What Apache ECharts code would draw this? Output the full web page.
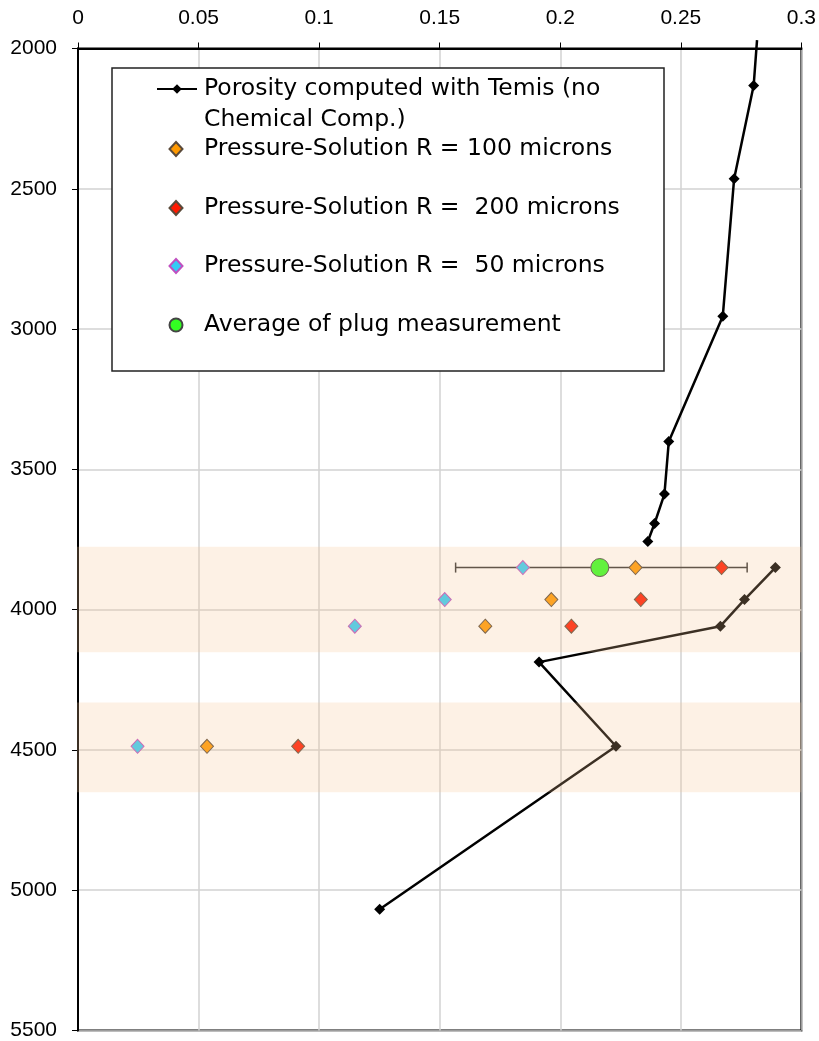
<!DOCTYPE html>
<html>
<head>
<meta charset="utf-8">
<script src="https://cdn.jsdelivr.net/npm/echarts@6/dist/echarts.min.js"></script>
<style>
  html, body { margin: 0; padding: 0; background: #fff; }
  #chart { width: 819px; height: 1041px; }
</style>
</head>
<body>
<div id="chart"></div>
<script>
// Porosity (fraction) against depth (m), depth increasing downwards.
const porosityRange = [0, 0.3];
const porosityStep = 0.05;
const depthRange = [2000, 5500];
const depthStep = 500;

const seriesNames = [
  'Porosity computed with Temis (no\nChemical Comp.)',
  'Pressure-Solution R = 100 microns',
  'Pressure-Solution R =  200 microns',
  'Pressure-Solution R =  50 microns',
  'Average of plug measurement'
];

// Temis porosity profile as [porosity, depth]; '-' splits the curve in two
const temisPorosity = [
  [0.2816, 1970], [0.2802, 2132], [0.2721, 2464], [0.2674, 2954],
  [0.2450, 3401], [0.2432, 3588], [0.2391, 3693], [0.2363, 3757],
  ['-', '-'],
  [0.2892, 3850], [0.2764, 3964], [0.2664, 4059], [0.1912, 4187],
  [0.2231, 4487], [0.1251, 5068]
];

// Pressure-solution porosity for three grain radii
const psR100 = [[0.2312, 3850], [0.1963, 3964], [0.1689, 4059], [0.0535, 4487]];
const psR200 = [[0.2669, 3850], [0.2334, 3964], [0.2046, 4059], [0.0913, 4487]];
const psR50  = [[0.1845, 3850], [0.1521, 3964], [0.1148, 4059], [0.0247, 4487]];

// Plug measurements: mean and min/max spread at one depth
const plugAverage = [[0.2164, 3850]];
const plugSpread = [[0.1566, 0.2775, 3850]];

// Reservoir intervals [top, base] highlighted across the plot
const reservoirZones = [[3776, 4152], [4331, 4651]];

const chart = echarts.init(document.getElementById('chart'), null, { renderer: 'canvas' });

const tickFont = { fontFamily: 'Liberation Sans, Arial, sans-serif', fontSize: 21, color: '#000' };
const legendFont = 'DejaVu Sans, Verdana, sans-serif';

function scatterLegend(name, top) {
  return {
    data: [name], left: 168.5, top: top, orient: 'vertical',
    itemWidth: 13, itemHeight: 14, padding: 0, selectedMode: false, z: 50,
    textStyle: { fontFamily: legendFont, fontSize: 23.5, lineHeight: 30, color: '#000', padding: [0, 0, 0, 16.5] }
  };
}

const option = {
  animation: false,
  backgroundColor: '#fff',
  grid: {
    left: 78, right: 17, top: 48.5, bottom: 9.5,
    show: true, borderColor: '#000', borderWidth: 2, backgroundColor: 'transparent'
  },
  xAxis: {
    type: 'value', position: 'top',
    min: porosityRange[0], max: porosityRange[1], interval: porosityStep,
    axisLine: { show: true, lineStyle: { color: '#000', width: 2 } },
    axisTick: { show: true, inside: false, length: 6, lineStyle: { color: '#000', width: 1 } },
    axisLabel: Object.assign({ margin: 20, formatter: v => String(+v.toFixed(2)) }, tickFont),
    splitLine: { show: true, lineStyle: { color: '#d2d2d2', width: 1.5 } }
  },
  yAxis: {
    type: 'value', inverse: true,
    min: depthRange[0], max: depthRange[1], interval: depthStep,
    axisLine: { show: true, lineStyle: { color: '#000', width: 2 } },
    axisTick: { show: true, inside: false, length: 6, lineStyle: { color: '#000', width: 1 } },
    axisLabel: Object.assign({ margin: 21, formatter: v => String(v) }, tickFont),
    splitLine: { show: true, lineStyle: { color: '#d2d2d2', width: 1.5 } }
  },
  legend: [
    {
      // leading empty line keeps the first text line level with the icon
      data: [seriesNames[0]], left: 156, top: 42.5, orient: 'vertical',
      itemWidth: 40, itemHeight: 12, padding: 0, selectedMode: false, z: 50,
      formatter: name => '\n' + name,
      textStyle: { fontFamily: legendFont, fontSize: 23.5, lineHeight: 31, color: '#000', padding: [0, 0, 0, 2] }
    },
    scatterLegend(seriesNames[1], 134),
    scatterLegend(seriesNames[2], 193),
    scatterLegend(seriesNames[3], 251),
    scatterLegend(seriesNames[4], 310)
  ],
  graphic: {
    elements: [{
      type: 'rect', z: 40,
      shape: { x: 112, y: 68, width: 552, height: 303 },
      style: { fill: '#fff', stroke: '#222', lineWidth: 1.5 }
    }]
  },
  series: [
    {
      name: seriesNames[0], type: 'line', data: temisPorosity,
      clip: false, connectNulls: false,
      symbol: 'diamond',
      symbolSize: v => (v[1] < depthRange[0] ? 0 : 11),
      lineStyle: { color: '#000', width: 2.5 },
      itemStyle: { color: '#000' },
      z: 3
    },
    {
      name: 'plug spread', type: 'custom', data: plugSpread,
      encode: { x: [0, 1], y: 2 },
      renderItem: function (params, api) {
        const left = api.coord([api.value(0), api.value(2)]);
        const right = api.coord([api.value(1), api.value(2)]);
        const cap = 5;
        const st = { stroke: '#333', lineWidth: 1.5 };
        return {
          type: 'group',
          children: [
            { type: 'line', shape: { x1: left[0], y1: left[1], x2: right[0], y2: right[1] }, style: st },
            { type: 'line', shape: { x1: left[0], y1: left[1] - cap, x2: left[0], y2: left[1] + cap }, style: st },
            { type: 'line', shape: { x1: right[0], y1: right[1] - cap, x2: right[0], y2: right[1] + cap }, style: st }
          ]
        };
      },
      z: 3, silent: true
    },
    {
      name: seriesNames[1], type: 'scatter', data: psR100,
      symbol: 'diamond', symbolSize: [13, 14],
      itemStyle: { color: '#ff9900', borderColor: '#5a4a3a', borderWidth: 1, opacity: 1 },
      z: 4
    },
    {
      name: seriesNames[2], type: 'scatter', data: psR200,
      symbol: 'diamond', symbolSize: [13, 14],
      itemStyle: { color: '#ff1a00', borderColor: '#5a4a3a', borderWidth: 1, opacity: 1 },
      z: 4
    },
    {
      name: seriesNames[3], type: 'scatter', data: psR50,
      symbol: 'diamond', symbolSize: [13, 14],
      itemStyle: { color: '#33ccf5', borderColor: '#c050c0', borderWidth: 1, opacity: 1 },
      z: 4
    },
    {
      name: seriesNames[4], type: 'scatter', data: plugAverage,
      symbol: 'circle', symbolSize: 18,
      itemStyle: { color: '#33ff22', borderColor: '#444', borderWidth: 1, opacity: 1 },
      z: 5
    },
    {
      name: 'reservoir zones', type: 'custom', data: reservoirZones,
      encode: { y: [0, 1] },
      renderItem: function (params, api) {
        const cs = params.coordSys;
        const top = api.coord([0, api.value(0)])[1];
        const base = api.coord([0, api.value(1)])[1];
        return {
          type: 'rect',
          shape: { x: cs.x - 1, y: top, width: cs.width + 1, height: base - top },
          style: { fill: 'rgba(245, 196, 147, 0.245)' }
        };
      },
      z: 10, silent: true
    }
  ]
};

chart.setOption(option);
</script>
</body>
</html>
